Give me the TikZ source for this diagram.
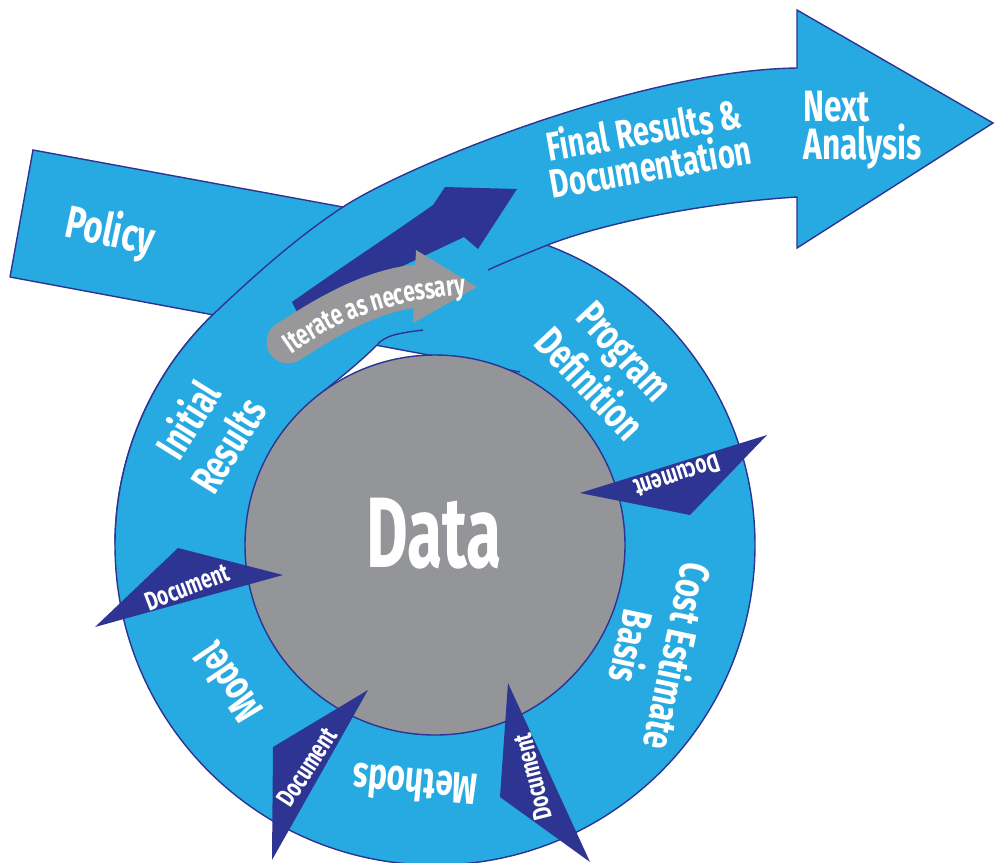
\documentclass[tikz,border=0pt]{standalone}
\usepackage{fontspec}
\newfontfamily\dinfont{Fira Sans}[FakeStretch=0.72]
\newfontfamily\datafont{Fira Sans}[FakeStretch=0.64]
\usetikzlibrary{calc,decorations.text}
\definecolor{ringblue}{RGB}{39,170,225}
\definecolor{darkblue}{RGB}{45,52,146}
\definecolor{datagray}{RGB}{147,149,152}
\definecolor{itergray}{RGB}{152,152,154}
\newcommand\iterfont{\dinfont\bfseries\fontsize{16.5}{17}\selectfont}
\tikzset{
  edge/.style={draw=darkblue, line width=0.8pt},
  docarrow/.style={fill=darkblue},
  lbl/.style={text=white, font=\dinfont\bfseries\fontsize{24}{27}\selectfont, align=center, inner sep=0pt},
  doclbl/.style={text=white, font=\dinfont\bfseries\fontsize{15}{15}\selectfont, inner sep=0pt},
}
\begin{document}
\begin{tikzpicture}[x=0.02cm, y=-0.02cm]
\useasboundingbox (0,0) rectangle (995,863);
\coordinate (C) at (435,545);
% ring disk
\fill[ringblue] (C) circle[radius=320];
\draw[edge] (C) circle[radius=320];
% policy band
\fill[ringblue] (33,150) -- (10,277) -- (437,357) -- (540,330) -- (540,225) -- (400,218) -- cycle;
\draw[edge] (10,277) -- (33,150) -- (400,217.5);
% white gap
\fill[white] (300,331) -- (437,357) -- (437,420) -- (300,420) -- cycle;
\draw[edge] (10,277) -- (520,372);
% spiral band
\fill[ringblue] ($(C)+(180:320)$) arc[start angle=180, end angle=227, radius=320]
  .. controls (258,272) and (300,235) .. (343,207)
  .. controls (405,166) and (640,70) .. (797,68)
  -- (797,10) -- (993,123) -- (797,248) -- (797,197)
  .. controls (700,203) and (600,224) .. (545,246)
  .. controls (523,255) and (505,262) .. (488,270)
  .. controls (462,284) and (450,325) .. (423,330)
  .. controls (400,333) and (385,335) .. (377,345)
  .. controls (360,362) and (340,378) .. (323.3,391.3)
  arc[start angle=234, end angle=180, radius=190] -- cycle;
\draw[edge] ($(C)+(180:320)$) arc[start angle=180, end angle=227, radius=320]
  .. controls (258,272) and (300,235) .. (343,207)
  .. controls (405,166) and (640,70) .. (797,68)
  -- (797,10) -- (993,123) -- (797,248) -- (797,197)
  .. controls (700,203) and (600,224) .. (545,246)
  .. controls (523,255) and (505,262) .. (488,270);
\draw[edge] (423,330) .. controls (400,333) and (385,335) .. (377,345)
  .. controls (360,362) and (340,378) .. (323.3,391.3);
% data circle
\filldraw[fill=datagray, edge] (C) circle[radius=190];
% dark blue arrow
\fill[darkblue] (292,302) .. controls (340,268) and (395,232) .. (433,205) -- (445,187) -- (517,189)
  -- (478,249) -- (464,237) .. controls (420,258) and (350,290) .. (300,318) -- cycle;
% gray iterate arrow
\draw[itergray, line width=0.86cm, line cap=round] (288,342) .. controls (320,322) and (365,292) .. (416,286);
\fill[itergray] (416,250) -- (477,287) -- (413,323) -- cycle;
\path[decorate, decoration={text along path, text={|\iterfont|Iterate as necessary}, text color=white, text align=center, raise=-5.5pt}]
  (280,350) .. controls (320,322) and (365,292) .. (472,284);
% document arrows
\fill[docarrow] (95,627) -- (178,548) -- (283,575) -- cycle;
\fill[docarrow] (767,435) -- (580,493) -- (690,515) -- cycle;
\fill[docarrow] (368,690) -- (273,747) -- (272,860) -- cycle;
\fill[docarrow] (508,683) -- (500,797) -- (590,862) -- cycle;
\node[doclbl, rotate=21] (doc1) at (187,587) {Document};
\node[doclbl, rotate=198] (doc2) at (677,476) {Document};
\node[doclbl, rotate=57] (doc3) at (307,767) {Document};
\node[doclbl, rotate=104] (doc4) at (533,777) {Document};
% labels
\node[lbl, font=\dinfont\bfseries\fontsize{26}{26}\selectfont, rotate=-12] (policy) at (110,233) {Policy};
\node[lbl, font=\dinfont\bfseries\fontsize{23}{21}\selectfont, rotate=10] (final) at (647,147) {Final Results \&\\Documentation};
\node[lbl, font=\dinfont\bfseries\fontsize{25}{22}\selectfont, anchor=west, align=left] (next) at (803,130) {Next\\Analysis};
\node[lbl, rotate=58] (initial) at (207,432) {Initial\\Results};
\node[lbl, rotate=-47] (progdef) at (607,368) {Program\\Definition};
\node[lbl, rotate=-102] (cost) at (656,652) {Cost Estimate\\Basis};
\node[lbl, font=\dinfont\bfseries\fontsize{25}{25}\selectfont, rotate=175] (methods) at (415,785) {Methods};
\node[lbl, rotate=124] (model) at (228,683) {Model};
\node[lbl, font=\datafont\bfseries\fontsize{57}{57}\selectfont] (data) at (434,534) {Data};
\end{tikzpicture}
\end{document}
